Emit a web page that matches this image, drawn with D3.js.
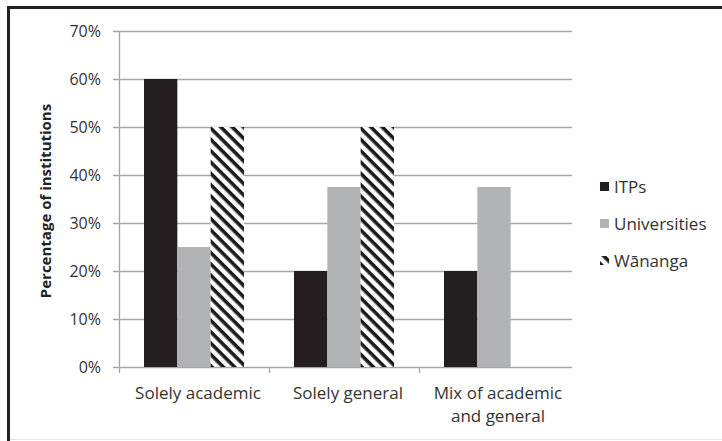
<!DOCTYPE html>
<html>
<head>
<meta charset="utf-8">
<script src="https://cdn.jsdelivr.net/npm/d3@7"></script>
<style>
  html, body { margin: 0; padding: 0; background: #fff; }
  svg { display: block; font-family: "Open Sans", Lato, sans-serif; }
</style>
</head>
<body>
<svg id="chart" width="722" height="441"></svg>
<script>
// Institution types along the x axis
const categories = ["Solely academic", "Solely general", "Mix of academic and general"];
const categoryLines = [["Solely academic"], ["Solely general"], ["Mix of academic", "and general"]];
const seriesNames = ["ITPs", "Universities", "Wānanga"];
// Percentage of institutions per series
const itps = [60, 20, 20];
const universities = [25, 37.5, 37.5];
const wananga = [50, 50, 0];
const yTicks = [0, 10, 20, 30, 40, 50, 60, 70];

const seriesValues = [itps, universities, wananga];

const svg = d3.select("#chart");

// page frame
svg.append("rect").attr("x", 0).attr("y", 0).attr("width", 722).attr("height", 441).attr("fill", "#fff");
svg.append("line").attr("x1", 7).attr("x2", 722).attr("y1", 7.5).attr("y2", 7.5)
  .attr("stroke", "#222").attr("stroke-width", 3);
svg.append("line").attr("x1", 8.5).attr("x2", 8.5).attr("y1", 6).attr("y2", 441)
  .attr("stroke", "#222").attr("stroke-width", 3);
svg.append("line").attr("x1", 10).attr("x2", 722).attr("y1", 439.5).attr("y2", 439.5)
  .attr("stroke", "#e4e4e4").attr("stroke-width", 1);

// diagonal stripes running top-left to bottom-right
const defs = svg.append("defs");
const pat = defs.append("pattern").attr("id", "stripes")
  .attr("patternUnits", "userSpaceOnUse").attr("width", 8).attr("height", 8)
  .attr("patternTransform", "rotate(45)");
pat.append("rect").attr("width", 8).attr("height", 8).attr("fill", "#fff");
pat.append("rect").attr("x", 0).attr("y", 0).attr("width", 8).attr("height", 3.6).attr("fill", "#1a1a1a");

const fills = ["#231f20", "#b2b3b5", "url(#stripes)"];

const plotLeft = 119, plotRight = 569, plotTop = 31, plotBottom = 367;

const x0 = d3.scaleBand().domain(categories).range([plotLeft, plotRight]).paddingInner(0).paddingOuter(0);
const x1 = d3.scaleBand().domain(seriesNames).range([25, x0.bandwidth() - 25]).padding(0);
const y = d3.scaleLinear().domain([0, 70]).range([plotBottom, plotTop]);

// gridlines
svg.append("g").selectAll("line").data(yTicks).join("line")
  .attr("x1", plotLeft - 6).attr("x2", plotRight + 3)
  .attr("y1", d => Math.round(y(d)) + 0.5).attr("y2", d => Math.round(y(d)) + 0.5)
  .attr("stroke", "#a6a6a6").attr("stroke-width", 1.3);

// bars
const groups = svg.append("g").selectAll("g").data(categories).join("g")
  .attr("transform", c => `translate(${x0(c)},0)`);
groups.selectAll("rect").data((c, i) => seriesNames.map((s, k) => ({ s, v: seriesValues[k][i], k })))
  .join("rect")
  .attr("x", d => x1(d.s))
  .attr("width", x1.bandwidth())
  .attr("y", d => y(d.v))
  .attr("height", d => y(0) - y(d.v))
  .attr("fill", d => fills[d.k]);

// y axis line and category ticks
svg.append("line").attr("x1", plotLeft + 0.5).attr("x2", plotLeft + 0.5).attr("y1", plotTop).attr("y2", plotBottom + 6)
  .attr("stroke", "#a6a6a6").attr("stroke-width", 1.3);
svg.append("g").selectAll("line").data(categories.slice(1)).join("line")
  .attr("x1", c => x0(c) + 0.5)
  .attr("x2", c => x0(c) + 0.5)
  .attr("y1", plotBottom).attr("y2", plotBottom + 6)
  .attr("stroke", "#a6a6a6").attr("stroke-width", 1.3);

// y tick labels
svg.append("g").selectAll("text").data(yTicks).join("text")
  .attr("x", 101).attr("y", d => y(d) + 6)
  .attr("text-anchor", "end").attr("font-size", 16).attr("fill", "#333")
  .text(d => d + "%");

// category labels
const catLabels = svg.append("g").selectAll("text").data(categories).join("text")
  .attr("x", c => x0(c) + x0.bandwidth() / 2 + 4)
  .attr("y", 399).attr("text-anchor", "middle").attr("font-size", 17).attr("fill", "#333");
catLabels.selectAll("tspan").data((c, i) => categoryLines[i]).join("tspan")
  .attr("x", function () { return d3.select(this.parentNode).attr("x"); })
  .attr("dy", (d, j) => j === 0 ? 0 : 23)
  .text(d => d);

// y axis title
svg.append("text")
  .attr("transform", `translate(51,${(plotTop + plotBottom) / 2 + 2}) rotate(-90)`)
  .attr("text-anchor", "middle").attr("font-size", 15).attr("font-weight", "bold").attr("fill", "#222")
  .text("Percentage of institutions");

// legend
const legend = svg.append("g").selectAll("g").data(seriesNames).join("g")
  .attr("transform", (d, i) => `translate(600,${187 + i * 37})`);
legend.append("rect")
  .attr("x", 0).attr("y", -5).attr("width", 9).attr("height", 9)
  .attr("fill", (d, i) => i === 2 ? "url(#stripes)" : fills[i]);
legend.append("text")
  .attr("x", 14).attr("y", 6).attr("font-size", 17).attr("fill", "#333")
  .text(d => d);
</script>
</body>
</html>
